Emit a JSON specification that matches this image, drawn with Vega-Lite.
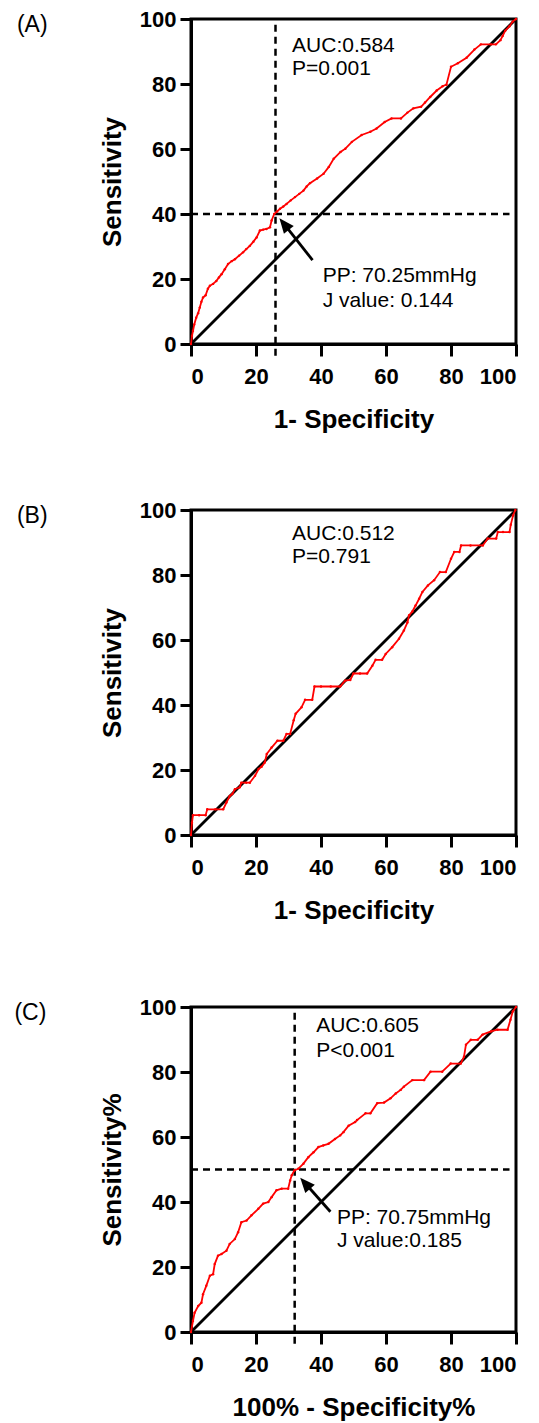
{
  "$schema": "https://vega.github.io/schema/vega-lite/v6.json",
  "padding": {"left": 12, "top": 6, "right": 0, "bottom": 0},
  "background": "white",
  "config": {
    "view": {"stroke": "black", "strokeWidth": 3},
    "axis": {
      "grid": false, "domainColor": "black", "domainWidth": 3, "tickColor": "black", "tickWidth": 3, "tickSize": 11,
      "labelFont": "Liberation Sans", "labelFontWeight": "bold", "labelFontSize": 22, "labelColor": "black", "labelPadding": 4,
      "titleFont": "Liberation Sans", "titleFontWeight": "bold", "titleFontSize": 26, "titleColor": "black"
    },
    "axisX": {"tickSize": 12, "labelPadding": 10, "titlePadding": 19},
    "axisY": {"titlePadding": 14},
    "title": {"orient": "left", "anchor": "end", "angle": 0, "align": "right", "baseline": "top", "offset": 21, "dy": -5, "fontSize": 23, "fontWeight": "normal", "font": "Liberation Sans", "color": "black", "frame": "group"}
  },
  "datasets": {
    "diag": [{"x": 0, "y": 0}, {"x": 100, "y": 100}],
    "curveA": [
      {"x":0,"y":0},{"x":0.3,"y":2.5},{"x":0.6,"y":4.0},{"x":1.0,"y":6},{"x":1.6,"y":8.1},{"x":2.2,"y":9.5},{"x":2.7,"y":11.2},{"x":3.2,"y":13},{"x":3.7,"y":14.3},{"x":4.5,"y":15},{"x":5.2,"y":17},{"x":5.8,"y":17.9},{"x":6.8,"y":18.5},{"x":7.8,"y":19.4},{"x":8.6,"y":20.5},{"x":9.4,"y":21.5},{"x":10.4,"y":23},{"x":11.4,"y":24.6},{"x":12.5,"y":25.5},{"x":13.5,"y":26.1},{"x":14.8,"y":27.2},{"x":16.0,"y":28.2},{"x":17.0,"y":29.2},{"x":18.1,"y":30.2},{"x":19.2,"y":31.5},{"x":20.2,"y":32.8},{"x":21.2,"y":34.9},{"x":22.2,"y":35.2},{"x":23.2,"y":35.4},{"x":24.3,"y":35.9},{"x":24.8,"y":38.0},{"x":25.6,"y":40.0},{"x":26.5,"y":40.8},{"x":27.4,"y":41.6},{"x":28.4,"y":42.3},{"x":29.4,"y":43.1},{"x":30.7,"y":44.2},{"x":32,"y":45.2},{"x":33.3,"y":46.2},{"x":34.6,"y":47.2},{"x":35.6,"y":48.5},{"x":36.6,"y":49.5},{"x":38.8,"y":50.9},{"x":40.8,"y":52.4},{"x":42.4,"y":54.5},{"x":43.9,"y":57},{"x":46,"y":59.1},{"x":47.5,"y":60.1},{"x":49.5,"y":62.2},{"x":52.5,"y":64.3},{"x":55.2,"y":65.3},{"x":57.1,"y":66.3},{"x":59.6,"y":68.3},{"x":61.7,"y":69.4},{"x":64.6,"y":69.4},{"x":66.6,"y":71.2},{"x":68.4,"y":72.5},{"x":70.8,"y":73},{"x":72,"y":74.3},{"x":73.6,"y":76},{"x":75.6,"y":78},{"x":77.4,"y":79.3},{"x":78.6,"y":79.8},{"x":80,"y":85.3},{"x":82.1,"y":86.4},{"x":84.8,"y":88.1},{"x":87.2,"y":90.6},{"x":89.2,"y":92.2},{"x":92.3,"y":92.2},{"x":93.8,"y":92.2},{"x":95.2,"y":93.5},{"x":95.9,"y":94.8},{"x":96.7,"y":96.4},{"x":98,"y":97.8},{"x":99,"y":99.2},{"x":100,"y":100}
    ],
    "curveB": [
      {"x":0,"y":0},{"x":0.3,"y":3.8},{"x":0.6,"y":6.1},{"x":2.5,"y":6.1},{"x":4.5,"y":6.1},{"x":5.0,"y":7.9},{"x":7.5,"y":7.9},{"x":9.9,"y":7.9},{"x":10.9,"y":10.0},{"x":11.9,"y":12.0},{"x":12.7,"y":12.6},{"x":13.5,"y":14.1},{"x":15.0,"y":14.7},{"x":15.5,"y":16.1},{"x":17,"y":16.1},{"x":18.1,"y":16.1},{"x":19.7,"y":18.2},{"x":20.8,"y":20.3},{"x":21.7,"y":21.0},{"x":22.7,"y":22.3},{"x":23.3,"y":24.9},{"x":24.8,"y":26.9},{"x":26.6,"y":29.0},{"x":28.4,"y":29.0},{"x":29.4,"y":31.1},{"x":30.5,"y":31.1},{"x":31.6,"y":35.3},{"x":32.2,"y":37.3},{"x":34.0,"y":39.3},{"x":35.1,"y":41.6},{"x":37.3,"y":41.6},{"x":38.0,"y":45.7},{"x":40,"y":45.7},{"x":43,"y":45.7},{"x":45.9,"y":45.7},{"x":47.4,"y":47.5},{"x":49.0,"y":47.7},{"x":50.0,"y":49.7},{"x":52,"y":49.7},{"x":54.2,"y":49.7},{"x":55.8,"y":52.1},{"x":56.8,"y":53.9},{"x":58.8,"y":53.9},{"x":59.9,"y":55.7},{"x":61.9,"y":57.8},{"x":64,"y":60.4},{"x":65.5,"y":62.9},{"x":66.6,"y":65.4},{"x":67.1,"y":67.6},{"x":68.1,"y":68.8},{"x":69.1,"y":70.6},{"x":70.2,"y":72.7},{"x":71.2,"y":74.8},{"x":72.9,"y":76.8},{"x":74.8,"y":78.4},{"x":76.6,"y":80.9},{"x":78.4,"y":80.9},{"x":80,"y":85.0},{"x":81,"y":87.1},{"x":82.6,"y":87.1},{"x":83.1,"y":89.1},{"x":86,"y":89.1},{"x":89.8,"y":89.1},{"x":91.3,"y":91.2},{"x":93.9,"y":91.2},{"x":94.4,"y":93.2},{"x":96,"y":93.2},{"x":98,"y":93.2},{"x":98.4,"y":95.5},{"x":99.1,"y":98.3},{"x":99.8,"y":100}
    ],
    "curveC": [
      {"x":0,"y":0},{"x":0.6,"y":3.4},{"x":1.1,"y":5.9},{"x":2.2,"y":8.0},{"x":3.2,"y":9.0},{"x":3.7,"y":11.6},{"x":4.7,"y":14.2},{"x":5.8,"y":17.3},{"x":6.8,"y":17.8},{"x":7.3,"y":20.9},{"x":8.3,"y":23.5},{"x":9.4,"y":24.0},{"x":10.9,"y":25.0},{"x":11.9,"y":27.1},{"x":13.5,"y":28.6},{"x":14.5,"y":30.7},{"x":15.5,"y":33.8},{"x":17.1,"y":34.3},{"x":18.6,"y":35.9},{"x":20.7,"y":37.9},{"x":22.2,"y":39.5},{"x":23.8,"y":40.0},{"x":24.8,"y":41.5},{"x":26.3,"y":43.6},{"x":27.9,"y":44.1},{"x":29.9,"y":44.1},{"x":30.5,"y":46.6},{"x":31,"y":48.2},{"x":31.8,"y":49.7},{"x":33,"y":50.2},{"x":34.6,"y":51.8},{"x":36.1,"y":53.8},{"x":37.7,"y":55.3},{"x":39.2,"y":56.9},{"x":40.7,"y":57.4},{"x":42.3,"y":57.9},{"x":44.3,"y":59.4},{"x":45.9,"y":60.5},{"x":46.9,"y":61.5},{"x":48.5,"y":63.5},{"x":50.5,"y":64.6},{"x":51.1,"y":65.2},{"x":53.7,"y":67.3},{"x":55.2,"y":67.3},{"x":57.3,"y":70.4},{"x":59.4,"y":70.6},{"x":61.4,"y":71.9},{"x":63,"y":73.4},{"x":64.5,"y":74.5},{"x":65.5,"y":75.5},{"x":68.1,"y":77.5},{"x":71.7,"y":77.5},{"x":73.7,"y":80.1},{"x":77.3,"y":80.1},{"x":79.9,"y":82.6},{"x":83,"y":82.6},{"x":84,"y":84.7},{"x":84.6,"y":88.4},{"x":86.1,"y":89.9},{"x":88.2,"y":89.9},{"x":89.7,"y":91.5},{"x":92.3,"y":92.5},{"x":94.3,"y":93},{"x":97.4,"y":93},{"x":98.3,"y":96.1},{"x":99,"y":98.6},{"x":100,"y":100}
    ],
    "cutA": [{"x": 26, "y": -3.6, "x2": 26, "y2": 100}, {"x": 0, "y": 40, "x2": 98, "y2": 40}],
    "cutC": [{"x": 31.9, "y": -3.6, "x2": 31.9, "y2": 100}, {"x": 0, "y": 50, "x2": 98, "y2": 50}],
    "arrowA": [{"x": 37.4, "y": 25.8, "x2": 28.8, "y2": 36.7}],
    "tipA": [{"x": 27.2, "y": 38.7}],
    "arrowC": [{"x": 42.9, "y": 37.0, "x2": 35.2, "y2": 45.7}],
    "tipC": [{"x": 33.6, "y": 47.5}],
    "textA": [{"x": 31.1, "y": 89.9, "t": "AUC:0.584"}, {"x": 31.1, "y": 82.8, "t": "P=0.001"}, {"x": 40.5, "y": 19.2, "t": "PP: 70.25mmHg"}, {"x": 40.5, "y": 11.5, "t": "J value: 0.144"}],
    "textB": [{"x": 31.1, "y": 90.8, "t": "AUC:0.512"}, {"x": 31.1, "y": 83.6, "t": "P=0.791"}],
    "textC": [{"x": 38.5, "y": 92.2, "t": "AUC:0.605"}, {"x": 38.5, "y": 84.7, "t": "P<0.001"}, {"x": 44.9, "y": 33.2, "t": "PP: 70.75mmHg"}, {"x": 44.9, "y": 26.1, "t": "J value:0.185"}]
  },
  "spacing": 63,
  "vconcat": [
    {
      "width": 325, "height": 325,
      "title": {"text": "(A)"},
      "encoding": {
        "x": {"field": "x", "type": "quantitative", "scale": {"domain": [0, 100], "nice": false}, "axis": {"values": [0, 20, 40, 60, 80, 100], "title": "1- Specificity"}},
        "y": {"field": "y", "type": "quantitative", "scale": {"domain": [0, 100], "nice": false}, "axis": {"values": [0, 20, 40, 60, 80, 100], "title": "Sensitivity"}}
      },
      "layer": [
        {"data": {"name": "cutA"}, "mark": {"type": "rule", "color": "black", "strokeWidth": 2.5, "strokeDash": [7, 5]}, "encoding": {"x2": {"field": "x2"}, "y2": {"field": "y2"}}},
        {"data": {"name": "diag"}, "mark": {"type": "line", "color": "black", "strokeWidth": 2.8}, "encoding": {}},
        {"data": {"name": "curveA"}, "mark": {"type": "line", "color": "#ff0000", "strokeWidth": 1.8, "point": {"filled": true, "size": 6, "color": "#ff0000"}}, "encoding": {"order": {"value": null}}},
        {"data": {"name": "arrowA"}, "mark": {"type": "rule", "color": "black", "strokeWidth": 2.8}, "encoding": {"x2": {"field": "x2"}, "y2": {"field": "y2"}}},
        {"data": {"name": "tipA"}, "mark": {"type": "point", "shape": "M0,0L0.42,1L-0.42,1Z", "size": 900, "angle": 321, "filled": true, "color": "black", "opacity": 1, "strokeWidth": 0}, "encoding": {}},
        {"data": {"name": "textA"}, "mark": {"type": "text", "align": "left", "baseline": "alphabetic", "font": "Liberation Sans", "fontSize": 21, "color": "black"}, "encoding": {"text": {"field": "t"}}}
      ]
    },
    {
      "spacing": 69,
      "vconcat": [
        {
          "width": 325, "height": 325,
          "title": {"text": "(B)"},
          "encoding": {
            "x": {"field": "x", "type": "quantitative", "scale": {"domain": [0, 100], "nice": false}, "axis": {"values": [0, 20, 40, 60, 80, 100], "title": "1- Specificity"}},
            "y": {"field": "y", "type": "quantitative", "scale": {"domain": [0, 100], "nice": false}, "axis": {"values": [0, 20, 40, 60, 80, 100], "title": "Sensitivity"}}
          },
          "layer": [
            {"data": {"name": "diag"}, "mark": {"type": "line", "color": "black", "strokeWidth": 2.8}, "encoding": {}},
            {"data": {"name": "curveB"}, "mark": {"type": "line", "color": "#ff0000", "strokeWidth": 1.8, "point": {"filled": true, "size": 6, "color": "#ff0000"}}, "encoding": {"order": {"value": null}}},
            {"data": {"name": "textB"}, "mark": {"type": "text", "align": "left", "baseline": "alphabetic", "font": "Liberation Sans", "fontSize": 21, "color": "black"}, "encoding": {"text": {"field": "t"}}}
          ]
        },
        {
          "width": 325, "height": 325,
          "title": {"text": "(C)"},
          "encoding": {
            "x": {"field": "x", "type": "quantitative", "scale": {"domain": [0, 100], "nice": false}, "axis": {"values": [0, 20, 40, 60, 80, 100], "title": "100% - Specificity%"}},
            "y": {"field": "y", "type": "quantitative", "scale": {"domain": [0, 100], "nice": false}, "axis": {"values": [0, 20, 40, 60, 80, 100], "title": "Sensitivity%"}}
          },
          "layer": [
            {"data": {"name": "cutC"}, "mark": {"type": "rule", "color": "black", "strokeWidth": 2.5, "strokeDash": [7, 5]}, "encoding": {"x2": {"field": "x2"}, "y2": {"field": "y2"}}},
            {"data": {"name": "diag"}, "mark": {"type": "line", "color": "black", "strokeWidth": 2.8}, "encoding": {}},
            {"data": {"name": "curveC"}, "mark": {"type": "line", "color": "#ff0000", "strokeWidth": 1.8, "point": {"filled": true, "size": 6, "color": "#ff0000"}}, "encoding": {"order": {"value": null}}},
            {"data": {"name": "arrowC"}, "mark": {"type": "rule", "color": "black", "strokeWidth": 2.8}, "encoding": {"x2": {"field": "x2"}, "y2": {"field": "y2"}}},
            {"data": {"name": "tipC"}, "mark": {"type": "point", "shape": "M0,0L0.42,1L-0.42,1Z", "size": 900, "angle": 319, "filled": true, "color": "black", "opacity": 1, "strokeWidth": 0}, "encoding": {}},
            {"data": {"name": "textC"}, "mark": {"type": "text", "align": "left", "baseline": "alphabetic", "font": "Liberation Sans", "fontSize": 21, "color": "black"}, "encoding": {"text": {"field": "t"}}}
          ]
        }
      ]
    }
  ]
}
